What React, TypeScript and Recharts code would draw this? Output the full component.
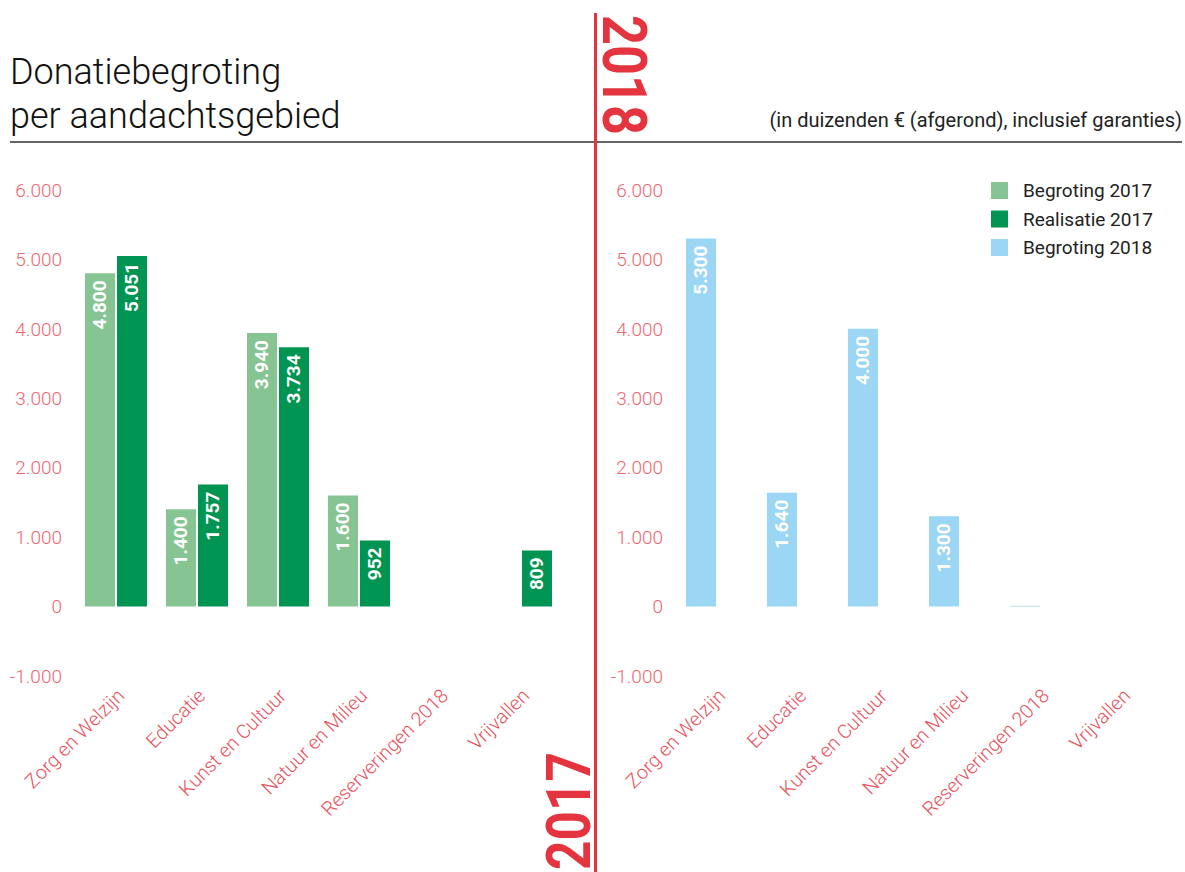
import { BarChart, Bar, XAxis, YAxis, LabelList } from "recharts";

// Donatiebegroting per aandachtsgebied: 2017 (begroting vs realisatie) links, 2018 rechts
const categories = [
  "Zorg en Welzijn",
  "Educatie",
  "Kunst en Cultuur",
  "Natuur en Milieu",
  "Reserveringen 2018",
  "Vrijvallen",
];
const begroting2017 = [4800, 1400, 3940, 1600, null, null];
const realisatie2017 = [5051, 1757, 3734, 952, null, 809];
const begroting2018 = [5300, 1640, 4000, 1300, 10, null];
// realisatie 2018 is nog niet bekend: lege plek naast elke balk
const realisatie2018 = [null, null, null, null, null, null];
const yTicks = [-1000, 0, 1000, 2000, 3000, 4000, 5000, 6000];

const legendItems = [
  { name: "Begroting 2017", color: "#86C493" },
  { name: "Realisatie 2017", color: "#009452" },
  { name: "Begroting 2018", color: "#9BD6F4" },
];

const FONT = "Roboto, 'Open Sans', sans-serif";
const RED = "#E4343F";

const leftData = categories.map((name, i) => ({
  name,
  begroting2017: begroting2017[i],
  realisatie2017: realisatie2017[i],
}));
const rightData = categories.map((name, i) => ({
  name,
  begroting2018: begroting2018[i],
  realisatie2018: realisatie2018[i],
}));

const fmt = (v: number) => String(v).replace(/\B(?=(\d{3})+(?!\d))/g, ".");

const CategoryTick = ({ x, y, payload }: any) => {
  const ax = x + 10;
  const ay = y + 13;
  return (
    <text
      x={ax}
      y={ay}
      transform={`rotate(-45, ${ax}, ${ay})`}
      textAnchor="end"
      fill="#E94F5A"
      fontSize={19.5}
      fontWeight={300}
      fontFamily={FONT}
    >
      {payload.value}
    </text>
  );
};

const BarValue = (props: any) => {
  const { x, y, width, value } = props;
  if (value == null || value < 100) return null;
  const cx = x + width / 2;
  const ty = y + 7;
  return (
    <text
      x={cx}
      y={ty}
      transform={`rotate(-90, ${cx}, ${ty})`}
      textAnchor="end"
      dominantBaseline="central"
      fill="#fff"
      fontSize={19}
      fontWeight={700}
      fontFamily={FONT}
    >
      {fmt(value)}
    </text>
  );
};

const yAxisProps = {
  domain: [-1000, 6000] as [number, number],
  ticks: yTicks,
  tickFormatter: fmt,
  tickLine: false,
  axisLine: false,
  tickMargin: 7,
  interval: 0 as const,
  tick: { fill: "#EF6670", fontSize: 19, fontWeight: 300, fontFamily: FONT },
};

const xAxisProps = {
  dataKey: "name",
  height: 196,
  tickLine: false,
  axisLine: false,
  interval: 0 as const,
  tick: <CategoryTick />,
};

export default function App() {
  return (
    <div
      style={{
        position: "absolute",
        left: 0,
        top: 0,
        width: 1185,
        height: 872,
        background: "#fff",
        fontFamily: FONT,
        overflow: "hidden",
      }}
    >
      <svg width={1185} height={872} style={{ position: "absolute", left: 0, top: 0 }}>
        <text x={10} y={84} fontSize={36} fontWeight={300} fill="#111" fontFamily={FONT}>
          Donatiebegroting
        </text>
        <text x={10} y={128} fontSize={36} fontWeight={300} fill="#111" fontFamily={FONT}>
          per aandachtsgebied
        </text>
        <text x={1182} y={127} fontSize={20} fill="#222" textAnchor="end" fontFamily={FONT}>
          (in duizenden € (afgerond), inclusief garanties)
        </text>
        <line x1={10} x2={1182} y1={142} y2={142} stroke="#333" strokeWidth={1.5} />
        <line x1={595.5} x2={595.5} y1={13} y2={872} stroke={RED} strokeWidth={3} />
        <text
          x={603}
          y={15}
          transform="rotate(90, 603, 15)"
          fontSize={62}
          fontWeight={700}
          fill={RED}
          fontFamily={FONT}
          textLength={120}
          lengthAdjust="spacingAndGlyphs"
        >
          2018
        </text>
        <text
          x={590}
          y={870}
          transform="rotate(-90, 590, 870)"
          fontSize={62}
          fontWeight={700}
          fill={RED}
          fontFamily={FONT}
          textLength={118}
          lengthAdjust="spacingAndGlyphs"
        >
          2017
        </text>
        {legendItems.map((item, i) => (
          <g key={item.name}>
            <rect x={991} y={182 + i * 28.5} width={17} height={17} fill={item.color} />
            <text x={1023} y={197 + i * 28.5} fontSize={19} fill="#222" fontFamily={FONT}>
              {item.name}
            </text>
          </g>
        ))}
      </svg>

      <div style={{ position: "absolute", left: 0, top: 0 }}>
        <BarChart
          width={595}
          height={872}
          data={leftData}
          margin={{ top: 190, right: 34, bottom: 0, left: 0 }}
          barSize={30}
          barGap={2}
        >
          <XAxis {...xAxisProps} />
          <YAxis width={75} {...yAxisProps} />
          <Bar dataKey="begroting2017" name="Begroting 2017" fill="#86C493" isAnimationActive={false}>
            <LabelList dataKey="begroting2017" content={<BarValue />} />
          </Bar>
          <Bar dataKey="realisatie2017" name="Realisatie 2017" fill="#009452" isAnimationActive={false}>
            <LabelList dataKey="realisatie2017" content={<BarValue />} />
          </Bar>
        </BarChart>
      </div>

      <div style={{ position: "absolute", left: 600, top: 0 }}>
        <BarChart
          width={585}
          height={872}
          data={rightData}
          margin={{ top: 190, right: 23, bottom: 0, left: 0 }}
          barSize={30}
          barGap={2}
        >
          <XAxis {...xAxisProps} />
          <YAxis width={76} {...yAxisProps} />
          <Bar dataKey="begroting2018" name="Begroting 2018" fill="#9BD6F4" isAnimationActive={false}>
            <LabelList dataKey="begroting2018" content={<BarValue />} />
          </Bar>
          <Bar dataKey="realisatie2018" name="Realisatie 2018" fill="#9BD6F4" isAnimationActive={false} />
        </BarChart>
      </div>
    </div>
  );
}
